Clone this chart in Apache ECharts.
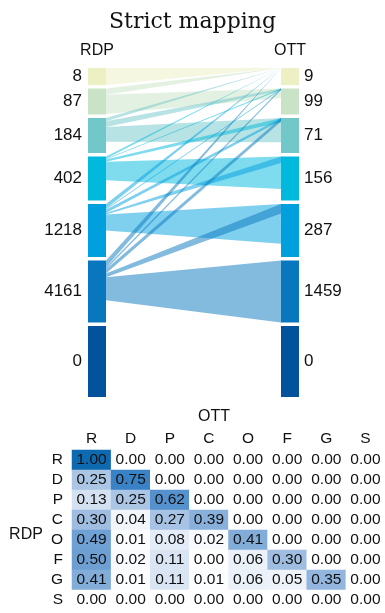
<!DOCTYPE html>
<html>
<head>
<meta charset="utf-8">
<script src="https://cdn.jsdelivr.net/npm/echarts@6/dist/echarts.min.js"></script>
<style>
  html, body { margin: 0; padding: 0; background: #fff; }
  #chart { width: 385px; height: 613px; }
</style>
</head>
<body>
<div id="chart"></div>
<script>
// classes, top to bottom
var classes = ['R', 'D', 'P', 'C', 'O', 'F', 'G', 'S'];

// sankey node totals
var rdpCounts = [8, 87, 184, 402, 1218, 4161, 0];
var ottCounts = [9, 99, 71, 156, 287, 1459, 0];

// heatmap: share of each RDP class that ends up in each OTT class
var shareR = [1.00, 0.00, 0.00, 0.00, 0.00, 0.00, 0.00, 0.00];
var shareD = [0.25, 0.75, 0.00, 0.00, 0.00, 0.00, 0.00, 0.00];
var shareP = [0.13, 0.25, 0.62, 0.00, 0.00, 0.00, 0.00, 0.00];
var shareC = [0.30, 0.04, 0.27, 0.39, 0.00, 0.00, 0.00, 0.00];
var shareO = [0.49, 0.01, 0.08, 0.02, 0.41, 0.00, 0.00, 0.00];
var shareF = [0.50, 0.02, 0.11, 0.00, 0.06, 0.30, 0.00, 0.00];
var shareG = [0.41, 0.01, 0.11, 0.01, 0.06, 0.05, 0.35, 0.00];
var shareS = [0.00, 0.00, 0.00, 0.00, 0.00, 0.00, 0.00, 0.00];
var shareRows = [shareR, shareD, shareP, shareC, shareO, shareF, shareG, shareS];

// sankey links:
// part of the source node taken by each link at its left end
var flowOut = [
    [1.00],
    [0.24, 0.74],
    [0.09, 0.17, 0.42],
    [0.05, 0.02, 0.05, 0.42],
    [0.09, 0.02, 0.06, 0.03, 0.30],
    [0.11, 0.03, 0.07, 0.00, 0.06, 0.37]
];
// part of the target node taken by each link at its right end
var flowIn = [
    [0.00],
    [0.00, 0.37],
    [0.00, 0.08, 0.69],
    [0.00, 0.05, 0.12, 0.74],
    [0.00, 0.04, 0.07, 0.15, 0.75],
    [0.00, 0.06, 0.10, 0.00, 0.18, 1.00]
];

var nodeColors = ['#edf0c3', '#c8e3c6', '#72c7c9', '#00b9dd', '#00a0df', '#0877bd', '#02529c'];
var heatColors = ['#ffffff', '#abc5e5', '#6d9fd3', '#3a82c6', '#0e6ab0'];

var SANS = '"Liberation Sans", Arial, sans-serif';

// node layout: heights grow with the row, not with the count
var NODE_W = 18 / 211;
var GAP = 3.5;
var nodeH = [], nodeTop = [];
var acc = 0;
for (var k = 0; k < rdpCounts.length; k++) {
    nodeH.push(17 + 9 * k);
    nodeTop.push(acc);
    acc += nodeH[k] + GAP;
}
var totalH = acc - GAP;

// nodes: [side, index]
var nodeData = [];
for (var k = 0; k < rdpCounts.length; k++) {
    nodeData.push([0, k]);
    nodeData.push([1, k]);
}

// links: [from, to, leftTop, leftBottom, rightTop, rightBottom]
var linkData = [];
flowOut.forEach(function (row, i) {
    var cum = nodeTop[i];
    row.forEach(function (w, j) {
        var wl = w * nodeH[i];
        var wr = flowIn[i][j] * nodeH[j];
        if (wl > 0 || wr > 0) {
            linkData.push([i, j, cum, cum + wl, nodeTop[j], nodeTop[j] + wr]);
        }
        cum += wl;
    });
});

var heatData = [];
shareRows.forEach(function (row, r) {
    row.forEach(function (v, c) {
        heatData.push([c, r, v]);
    });
});

var chart = echarts.init(document.getElementById('chart'));

var option = {
    animation: false,
    title: {
        text: 'Strict mapping',
        left: 'center',
        top: 6,
        textStyle: { fontFamily: '"DejaVu Serif", serif', fontWeight: 'normal', fontSize: 22, color: '#111' }
    },
    graphic: [
        { type: 'text', x: 97, y: 51, style: { text: 'RDP', font: '16px ' + SANS, fill: '#111', textAlign: 'center', textVerticalAlign: 'middle' } },
        { type: 'text', x: 290, y: 51, style: { text: 'OTT', font: '16px ' + SANS, fill: '#111', textAlign: 'center', textVerticalAlign: 'middle' } },
        { type: 'text', x: 214, y: 417, style: { text: 'OTT', font: '16px ' + SANS, fill: '#111', textAlign: 'center', textVerticalAlign: 'middle' } },
        { type: 'text', x: 26, y: 535, style: { text: 'RDP', font: '16px ' + SANS, fill: '#111', textAlign: 'center', textVerticalAlign: 'middle' } }
    ],
    grid: [
        { left: 88, width: 211, top: 68, height: 329 },
        { left: 72, width: 316, top: 450, height: 160 }
    ],
    xAxis: [
        { gridIndex: 0, type: 'value', min: 0, max: 1, show: false },
        {
            gridIndex: 1, type: 'category', data: classes, position: 'top',
            axisLine: { show: false }, axisTick: { show: false }, splitLine: { show: false },
            axisLabel: { interval: 0, fontSize: 15.5, fontFamily: SANS, color: '#111', margin: 3 }
        }
    ],
    yAxis: [
        { gridIndex: 0, type: 'value', min: 0, max: totalH, inverse: true, show: false },
        {
            gridIndex: 1, type: 'category', data: classes, inverse: true,
            axisLine: { show: false }, axisTick: { show: false }, splitLine: { show: false },
            axisLabel: { interval: 0, fontSize: 15.5, fontFamily: SANS, color: '#111', margin: 9 }
        }
    ],
    visualMap: {
        show: false,
        seriesIndex: 2,
        dimension: 2,
        min: 0,
        max: 1,
        inRange: { color: heatColors }
    },
    series: [
        {
            // links first so the nodes sit on top
            type: 'custom',
            xAxisIndex: 0, yAxisIndex: 0,
            clip: false,
            silent: true,
            data: linkData,
            renderItem: function (params, api) {
                var i = api.value(0);
                var a = api.coord([NODE_W, api.value(2)]);
                var b = api.coord([1 - NODE_W, api.value(4)]);
                var c = api.coord([1 - NODE_W, api.value(5)]);
                var d = api.coord([NODE_W, api.value(3)]);
                return {
                    type: 'polygon',
                    shape: { points: [a, b, c, d] },
                    style: { fill: nodeColors[i], opacity: 0.5 }
                };
            }
        },
        {
            type: 'custom',
            xAxisIndex: 0, yAxisIndex: 0,
            clip: false,
            silent: true,
            data: nodeData,
            renderItem: function (params, api) {
                var side = api.value(0);
                var i = api.value(1);
                var x0 = side === 0 ? 0 : 1 - NODE_W;
                var p0 = api.coord([x0, nodeTop[i]]);
                var p1 = api.coord([x0 + NODE_W, nodeTop[i] + nodeH[i]]);
                var midY = (p0[1] + p1[1]) / 2;
                var count = side === 0 ? rdpCounts[i] : ottCounts[i];
                return {
                    type: 'group',
                    children: [
                        {
                            type: 'rect',
                            shape: { x: p0[0], y: p0[1], width: p1[0] - p0[0], height: p1[1] - p0[1] },
                            style: { fill: nodeColors[i] }
                        },
                        {
                            type: 'text',
                            x: side === 0 ? p0[0] - 6 : p1[0] + 5,
                            y: midY,
                            style: {
                                text: String(count),
                                font: '17px ' + SANS,
                                fill: '#111',
                                textAlign: side === 0 ? 'right' : 'left',
                                textVerticalAlign: 'middle'
                            }
                        }
                    ]
                };
            }
        },
        {
            type: 'heatmap',
            xAxisIndex: 1, yAxisIndex: 1,
            data: heatData,
            itemStyle: { borderWidth: 0 },
            emphasis: { disabled: true },
            label: {
                show: true,
                fontSize: 15.5,
                fontFamily: SANS,
                color: '#111',
                formatter: function (p) { return p.value[2].toFixed(2); }
            }
        }
    ]
};

chart.setOption(option);
</script>
</body>
</html>
